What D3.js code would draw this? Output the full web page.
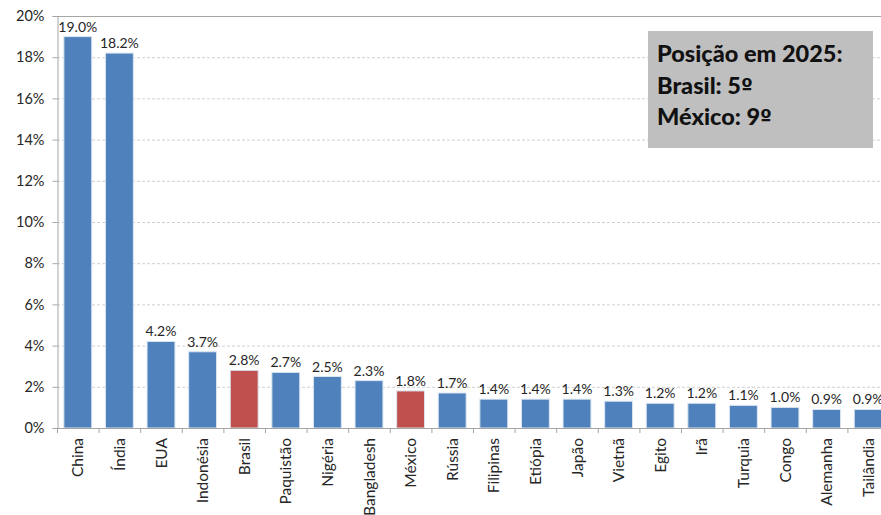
<!DOCTYPE html>
<html>
<head>
<meta charset="utf-8">
<script src="https://cdn.jsdelivr.net/npm/d3@7"></script>
<style>
  html, body { margin: 0; padding: 0; background: #fff; }
  svg { display: block; font-family: Lato, "Open Sans", "Liberation Sans", sans-serif; }
</style>
</head>
<body>
<svg id="chart" width="881" height="515"></svg>
<script>
// Population share by country (%), 2025 ranking
const countries = ["China", "Índia", "EUA", "Indonésia", "Brasil", "Paquistão", "Nigéria", "Bangladesh",
  "México", "Rússia", "Filipinas", "Etiópia", "Japão", "Vietnã", "Egito", "Irã", "Turquia", "Congo",
  "Alemanha", "Tailândia"];
const shares = [19.0, 18.2, 4.2, 3.7, 2.8, 2.7, 2.5, 2.3, 1.8, 1.7, 1.4, 1.4, 1.4, 1.3, 1.2, 1.2, 1.1, 1.0, 0.9, 0.9];
const highlighted = ["Brasil", "México"];
const yTicks = [0, 2, 4, 6, 8, 10, 12, 14, 16, 18, 20];
const noteLines = [["Posição em 2025:", ""], ["Brasil: 5", "º"], ["México: 9", "º"]];

const svg = d3.select("#chart");
const plotLeft = 57, plotTop = 16, plotBottom = 428;
const bandW = 41.6;
const plotRight = plotLeft + bandW * countries.length;

const x = d3.scaleBand().domain(countries).range([plotLeft, plotRight]).paddingInner(0.33).paddingOuter(0.165);
const y = d3.scaleLinear().domain([0, 20]).range([plotBottom, plotTop]);

// horizontal gridlines
svg.append("g").selectAll("line").data(yTicks.filter(d => d > 0 && d < 20)).join("line")
  .attr("x1", plotLeft).attr("x2", plotRight)
  .attr("y1", d => y(d) + 0.5).attr("y2", d => y(d) + 0.5)
  .attr("stroke", "#d0d0d0").attr("stroke-dasharray", "3,2").attr("stroke-width", 1);

// plot frame top
svg.append("line").attr("x1", plotLeft).attr("x2", plotRight).attr("y1", y(20) + 0.5).attr("y2", y(20) + 0.5)
  .attr("stroke", "#a6a6a6");

// y axis
const yAxis = d3.axisLeft(y).tickValues(yTicks).tickFormat(d => d + "%").tickSize(5).tickPadding(8);
const gy = svg.append("g").attr("transform", `translate(${plotLeft + 0.5},0)`).call(yAxis);
gy.select(".domain").attr("stroke", "#a6a6a6");
gy.selectAll(".tick line").attr("stroke", "#a6a6a6");
gy.selectAll(".tick text").attr("fill", "#262626").style("font-size", "14.5px")
  .style("font-family", "Lato, 'Open Sans', sans-serif");

// bars
svg.append("g").selectAll("rect").data(countries).join("rect")
  .attr("x", d => x(d))
  .attr("y", (d, i) => y(shares[i]))
  .attr("width", x.bandwidth())
  .attr("height", (d, i) => plotBottom - y(shares[i]))
  .attr("fill", d => highlighted.includes(d) ? "#C0504D" : "#4F81BD")
  .attr("stroke", "#dbe5f1").attr("stroke-width", 1);

// value labels
svg.append("g").selectAll("text").data(countries).join("text")
  .attr("x", d => x(d) + x.bandwidth() / 2)
  .attr("y", (d, i) => y(shares[i]) - 5)
  .attr("text-anchor", "middle")
  .attr("fill", "#262626").style("font-size", "14px")
  .text((d, i) => shares[i].toFixed(1) + "%");

// x axis with ticks at category boundaries
svg.append("line").attr("x1", plotLeft).attr("x2", plotRight).attr("y1", plotBottom + 0.5).attr("y2", plotBottom + 0.5)
  .attr("stroke", "#a6a6a6");
svg.append("g").selectAll("line").data(d3.range(countries.length + 1)).join("line")
  .attr("x1", i => plotLeft + i * bandW + 0.5).attr("x2", i => plotLeft + i * bandW + 0.5)
  .attr("y1", plotBottom).attr("y2", plotBottom + 5)
  .attr("stroke", "#a6a6a6");

// category labels, rotated
svg.append("g").selectAll("text").data(countries).join("text")
  .attr("transform", d => `translate(${x(d) + x.bandwidth() / 2 + 5.5},${plotBottom + 10}) rotate(-90)`)
  .attr("text-anchor", "end")
  .attr("fill", "#262626").style("font-size", "15.5px")
  .text(d => d);

// note box
svg.append("rect").attr("x", 648).attr("y", 31).attr("width", 225).attr("height", 117)
  .attr("fill", "#BFBFBF");
const note = svg.append("g").selectAll("text").data(noteLines).join("text")
  .attr("x", 657).attr("y", (d, i) => 62 + i * 31.5)
  .attr("fill", "#111").style("font-size", "23.5px").style("font-weight", "900");
note.append("tspan").text(d => d[0]);
note.append("tspan").style("font-family", "'DejaVu Sans', sans-serif").style("font-weight", "bold")
  .style("font-size", "21px").text(d => d[1]);
</script>
</body>
</html>
